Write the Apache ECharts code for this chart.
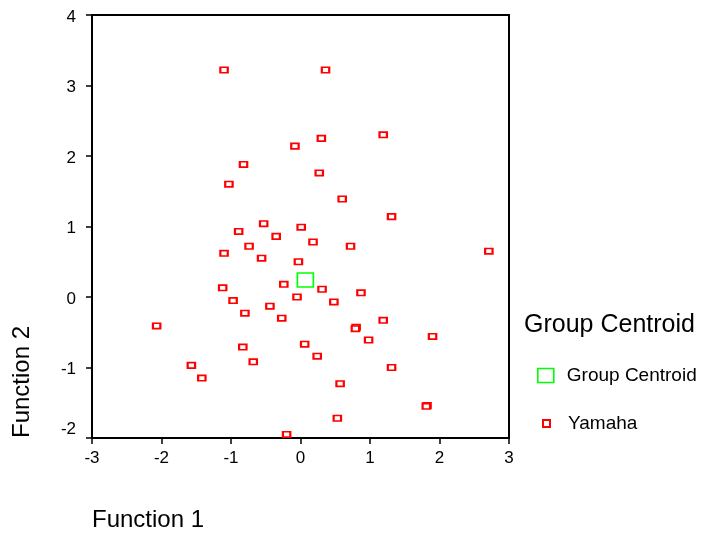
<!DOCTYPE html>
<html>
<head>
<meta charset="utf-8">
<title>Discriminant scores</title>
<script src="https://cdn.jsdelivr.net/npm/echarts@6/dist/echarts.min.js"></script>
<style>
  html, body { margin: 0; padding: 0; background: #ffffff; }
  #chart { width: 705px; height: 535px; }
</style>
</head>
<body>
<div id="chart"></div>
<script>
// Canonical discriminant function scores, one entry per case
const function1Yamaha = [
  -1.10, 0.36, 1.19, -0.08, 0.30, -0.82, -1.03, 0.27, 0.60, 1.31,
  -0.53, -0.89, 0.01, -0.35, -0.74, 0.18, 0.72, 2.71, -1.10, -0.56,
  -0.03, -0.24, -1.12, 0.31, 0.87, -0.97, -0.05, 0.48, -0.44, -0.80,
  -0.27, 1.19, -2.07, 0.80, 0.79, 1.90, 0.98, 0.06, -0.83, 0.24,
  -0.68, -1.57, 1.31, -1.42, 0.57, 1.82, 1.81, 0.53, -0.20
];
const function2Yamaha = [
  3.22, 3.22, 2.30, 2.14, 2.25, 1.88, 1.60, 1.76, 1.39, 1.14,
  1.04, 0.93, 0.99, 0.86, 0.72, 0.78, 0.72, 0.65, 0.62, 0.55,
  0.50, 0.18, 0.13, 0.11, 0.06, -0.05, 0.00, -0.07, -0.13, -0.23,
  -0.30, -0.33, -0.41, -0.43, -0.45, -0.56, -0.61, -0.67, -0.71, -0.84,
  -0.92, -0.97, -1.00, -1.15, -1.23, -1.54, -1.55, -1.72, -1.95
];
const centroidFunction1 = [0.07];
const centroidFunction2 = [0.24];

const xTicks = [-3, 3, 1];   // min, max, step
const yTicks = [-2, 4, 1];

const seriesNames = ['Group Centroid', 'Yamaha'];
const legendTitle = 'Group Centroid';
const xName = 'Function 1';
const yName = 'Function 2';

const FONT = 'Liberation Sans, Arial, sans-serif';

function pairs(xs, ys) {
  return xs.map((x, i) => [x, ys[i]]);
}

const chart = echarts.init(document.getElementById('chart'), null, { renderer: 'canvas' });

const axisCommon = {
  type: 'value',
  axisLine: { show: true, onZero: false, lineStyle: { color: '#000', width: 2 } },
  axisTick: { show: true, inside: false, length: 6, lineStyle: { color: '#000', width: 1.5 } },
  splitLine: { show: false },
  nameMoveOverlap: false
};

chart.setOption({
  animation: false,
  backgroundColor: '#ffffff',
  textStyle: { fontFamily: FONT },
  title: {
    text: legendTitle,
    left: 524,
    top: 313,
    padding: 0,
    textStyle: { fontFamily: FONT, fontSize: 25, fontWeight: 'normal', color: '#000' }
  },
  legend: [
    {
      data: [{
        name: seriesNames[0],
        icon: 'rect',
        itemStyle: { color: '#ffffff', borderColor: '#00ff00', borderWidth: 1.6 }
      }],
      left: 537,
      top: 366,
      padding: 0,
      itemWidth: 16,
      itemHeight: 14,
      selectedMode: false,
      textStyle: { fontFamily: FONT, fontSize: 19, color: '#000', padding: [0, 0, 0, 8] }
    },
    {
      data: [{
        name: seriesNames[1],
        icon: 'rect',
        itemStyle: { color: '#ffffff', borderColor: '#ff0000', borderWidth: 2 }
      }],
      left: 542,
      top: 414,
      padding: 0,
      itemWidth: 7,
      itemHeight: 7,
      selectedMode: false,
      textStyle: { fontFamily: FONT, fontSize: 19, color: '#000', padding: [0, 0, 0, 13] }
    }
  ],
  grid: {
    left: 92,
    right: 196,
    top: 15,
    bottom: 97,
    show: true,
    borderColor: '#000',
    borderWidth: 2,
    backgroundColor: '#ffffff',
    containLabel: false,
    outerBoundsMode: 'none'
  },
  xAxis: Object.assign({}, axisCommon, {
    min: xTicks[0],
    max: xTicks[1],
    interval: xTicks[2],
    axisLabel: { color: '#000', fontFamily: FONT, fontSize: 17, margin: 12 },
    name: xName,
    nameLocation: 'start',
    nameGap: 0,
    nameTextStyle: {
      fontFamily: FONT, fontSize: 24, color: '#000',
      align: 'left', verticalAlign: 'top', padding: [70, 0, 0, 0]
    }
  }),
  yAxis: Object.assign({}, axisCommon, {
    min: yTicks[0],
    max: yTicks[1],
    interval: yTicks[2],
    axisLabel: {
      color: '#000', fontFamily: FONT, fontSize: 17, margin: 16,
      // the lowest label is lifted clear of the x-axis labels
      formatter: v => (v === yTicks[0] ? '{low|' + v + '}' : '{base|' + v + '}'),
      rich: {
        base: { fontFamily: FONT, fontSize: 17, color: '#000', padding: [4, 0, 0, 0] },
        low: { fontFamily: FONT, fontSize: 17, color: '#000', padding: [0, 0, 18, 0] }
      }
    },
    name: yName,
    nameLocation: 'start',
    nameGap: 0,
    nameRotate: 90,
    nameTextStyle: {
      fontFamily: FONT, fontSize: 24, color: '#000',
      align: 'left', verticalAlign: 'bottom', padding: [0, 0, 58, 0]
    }
  }),
  series: [
    {
      name: seriesNames[1],
      type: 'scatter',
      symbol: 'rect',
      symbolSize: [7.4, 5.4],
      itemStyle: { color: '#ffffff', borderColor: '#ff0000', borderWidth: 1.9, opacity: 1 },
      emphasis: { disabled: true },
      clip: false,
      data: pairs(function1Yamaha, function2Yamaha),
      z: 2
    },
    {
      name: seriesNames[0],
      type: 'scatter',
      symbol: 'rect',
      symbolSize: [16, 14],
      itemStyle: { color: 'rgba(255,255,255,0)', borderColor: '#00ff00', borderWidth: 1.6, opacity: 1 },
      emphasis: { disabled: true },
      clip: false,
      data: pairs(centroidFunction1, centroidFunction2),
      z: 3
    }
  ]
});
</script>
</body>
</html>
